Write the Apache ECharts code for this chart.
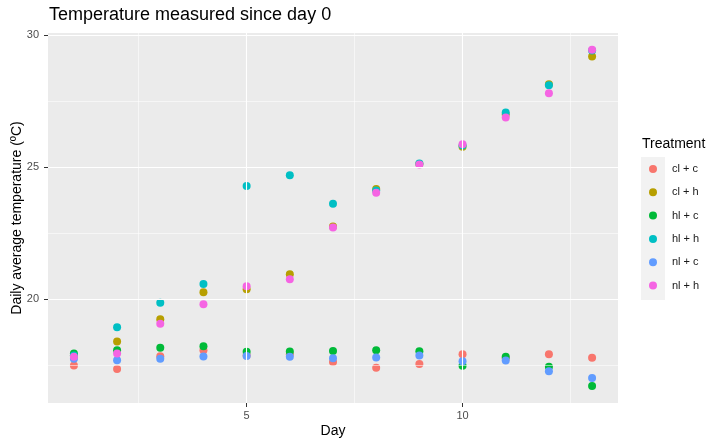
<!DOCTYPE html>
<html>
<head>
<meta charset="utf-8">
<script src="https://cdn.jsdelivr.net/npm/echarts@6/dist/echarts.min.js"></script>
<style>
  html, body { margin: 0; padding: 0; background: #fff; }
  #chart { width: 709px; height: 441px; }
</style>
</head>
<body>
<div id="chart"></div>
<script>
  // values
  const days = [1, 2, 3, 4, 5, 6, 7, 8, 9, 10, 11, 12, 13]
  const treatments = ['cl + c', 'cl + h', 'hl + c', 'hl + h', 'nl + c', 'nl + h']
  const clC = [17.50, 17.37, 17.85, 18.08, 17.88, 17.92, 17.63, 17.41, 17.56, 17.92, 17.77, 17.92, 17.79]
  const clH = [17.88, 18.41, 19.25, 20.27, 20.38, 20.95, 22.76, 24.18, 25.12, 25.78, 27.00, 28.14, 29.19]
  const hlC = [17.95, 18.08, 18.17, 18.23, 18.02, 18.03, 18.05, 18.08, 18.04, 17.49, 17.83, 17.45, 16.72]
  const hlH = [17.88, 18.95, 19.87, 20.58, 24.29, 24.70, 23.62, 24.12, 25.14, 25.82, 27.07, 28.10, 29.42]
  const nlC = [17.75, 17.70, 17.75, 17.84, 17.86, 17.83, 17.77, 17.80, 17.88, 17.66, 17.69, 17.28, 17.03]
  const nlH = [17.83, 17.95, 19.08, 19.82, 20.50, 20.76, 22.72, 24.04, 25.10, 25.87, 26.88, 27.80, 29.45]
  const seriesValues = [clC, clH, hlC, hlH, nlC, nlH]

  // tick labels / grid lines
  const xMajor = [5, 10]
  const xMinor = [2.5, 7.5, 12.5]
  const yMajor = [20, 25, 30]
  const yMinor = [17.5, 22.5, 27.5]

  const colors = ['#F8766D', '#B79F00', '#00BA38', '#00BFC4', '#619CFF', '#F564E3']
  const font = 'Liberation Sans, Arial, sans-serif'

  let myChart = echarts.init(document.getElementById('chart'))

  // grid lines as mark lines, white on grey panel
  let gridLines = []
  xMinor.forEach(v => gridLines.push({xAxis: v, lineStyle: {width: 0.55}}))
  yMinor.forEach(v => gridLines.push({yAxis: v, lineStyle: {width: 0.55}}))
  xMajor.forEach(v => gridLines.push({xAxis: v, lineStyle: {width: 1.1}}))
  yMajor.forEach(v => gridLines.push({yAxis: v, lineStyle: {width: 1.1}}))

  let series = [{
    name: 'grid',
    type: 'line',
    data: [],
    z: 1,
    silent: true,
    markLine: {
      silent: true,
      symbol: 'none',
      animation: false,
      label: {show: false},
      lineStyle: {color: '#ffffff', type: 'solid', opacity: 1},
      emphasis: {disabled: true},
      data: gridLines
    }
  }]
  treatments.forEach((name, i) => {
    series.push({
      name,
      type: 'scatter',
      z: 2,
      symbolSize: 8,
      itemStyle: {color: colors[i], opacity: 1},
      data: days.map((d, j) => [d, seriesValues[i][j]])
    })
  })

  const tick = {show: true, length: 4, lineStyle: {color: '#333333', width: 1}}

  myChart.setOption({
    animation: false,
    textStyle: {fontFamily: font},
    title: [{
      text: 'Temperature measured since day 0',
      left: 49,
      top: 6,
      padding: 0,
      textStyle: {fontSize: 18, fontWeight: 'normal', color: '#000', fontFamily: font}
    }, {
      text: 'Treatment',
      left: 642,
      top: 137,
      padding: 0,
      textStyle: {fontSize: 14, fontWeight: 'normal', color: '#000', fontFamily: font}
    }],
    graphic: [{
      type: 'rect',
      left: 641,
      top: 157,
      shape: {width: 24, height: 143},
      style: {fill: '#F2F2F2'},
      z: 0
    }],
    legend: {
      orient: 'vertical',
      left: 649,
      top: 162,
      padding: 0,
      itemGap: 9.3,
      itemWidth: 8,
      itemHeight: 8,
      icon: 'circle',
      data: treatments,
      textStyle: {fontSize: 11, color: '#1a1a1a', lineHeight: 14, padding: [0, 0, 0, 10], fontFamily: font}
    },
    grid: {
      left: 48,
      right: 91,
      top: 33,
      bottom: 38,
      outerBoundsMode: 'none',
      containLabel: false,
      show: true,
      backgroundColor: '#EBEBEB',
      borderWidth: 0
    },
    xAxis: {
      type: 'value',
      min: 0.4,
      max: 13.6,
      name: 'Day',
      nameLocation: 'middle',
      nameMoveOverlap: false,
      nameGap: 21,
      nameTextStyle: {fontSize: 14, color: '#000', fontFamily: font},
      axisLine: {show: false},
      axisTick: Object.assign({customValues: xMajor}, tick),
      axisLabel: {customValues: xMajor, fontSize: 11, color: '#4D4D4D', margin: 7, fontFamily: font},
      splitLine: {show: false}
    },
    yAxis: {
      type: 'value',
      min: 16.08,
      max: 30.08,
      name: 'Daily average temperature (ºC)',
      nameLocation: 'middle',
      nameMoveOverlap: false,
      nameGap: 24,
      nameTextStyle: {fontSize: 14, color: '#000', fontFamily: font},
      axisLine: {show: false},
      axisTick: Object.assign({customValues: yMajor}, tick),
      axisLabel: {customValues: yMajor, fontSize: 11, color: '#4D4D4D', margin: 9, fontFamily: font},
      splitLine: {show: false}
    },
    series
  })
</script>
</body>
</html>
